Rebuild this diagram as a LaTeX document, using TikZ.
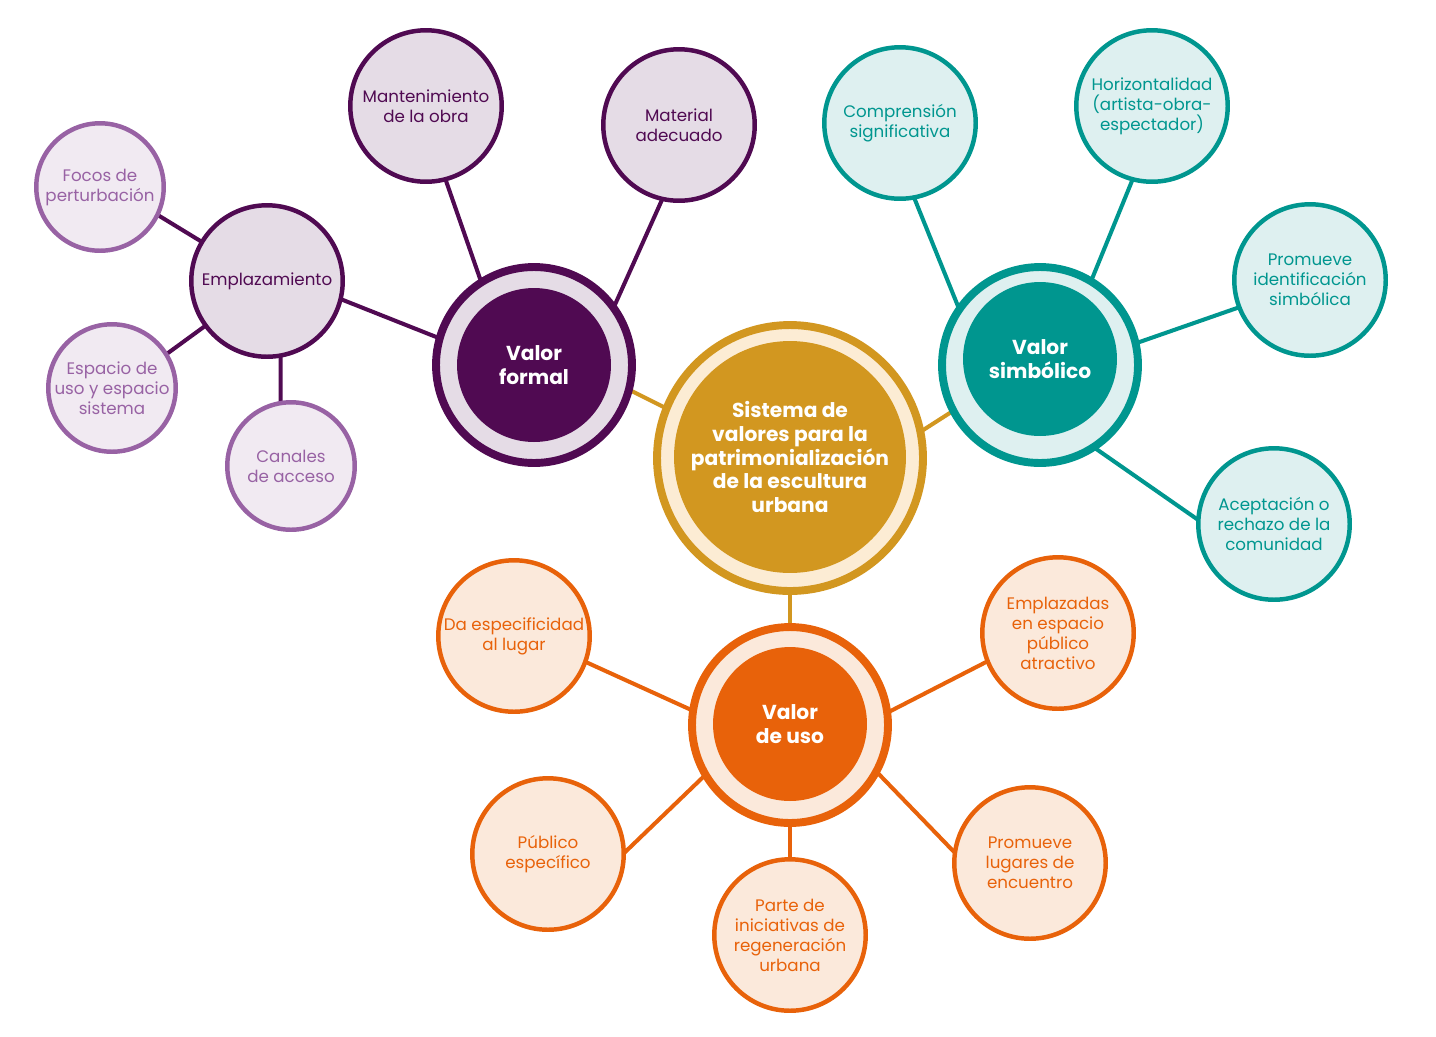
\documentclass[tikz,border=0pt]{standalone}
\usepackage{fontspec}
\setmainfont{Poppins}
\usetikzlibrary{backgrounds}
\definecolor{gold}{RGB}{210,151,32}
\definecolor{cream}{RGB}{252,236,212}
\definecolor{dpur}{RGB}{80,10,82}
\definecolor{dpurfill}{RGB}{229,220,230}
\definecolor{lpur}{RGB}{152,98,164}
\definecolor{lpurfill}{RGB}{241,234,242}
\definecolor{teal}{RGB}{0,150,143}
\definecolor{tealfill}{RGB}{222,240,240}
\definecolor{orng}{RGB}{232,98,10}
\definecolor{orngfill}{RGB}{251,233,219}
\begin{document}
\begin{tikzpicture}[x=0.02cm,y=-0.02cm,
  leaf/.style={circle, draw=#1, line width=2.55pt, minimum size=3.03cm, inner sep=0pt, align=center, text=#1,
    font=\fontsize{9.5}{11.4}\selectfont},
  smallleaf/.style={leaf=#1, minimum size=2.55cm},
  valring/.style={circle, draw=#1, line width=4.5pt, minimum size=3.92cm, inner sep=0pt},
  valdisc/.style={circle, fill=#1, minimum size=3.08cm, inner sep=0pt, align=center, text=white,
    font=\fontsize{11.5}{13.6}\selectfont\bfseries},
  link/.style={draw=#1, line width=2.3pt, shorten <=-3pt, shorten >=-3pt}]
\useasboundingbox (0,0) rectangle (1436,1036);

% centre
\node[circle, draw=gold, fill=cream, line width=4.5pt, minimum size=5.32cm, inner sep=0pt] (C) at (790,458) {};
\node[circle, fill=gold, minimum size=4.64cm, inner sep=0pt, align=center, text=white,
  font=\fontsize{11.5}{13.6}\selectfont\bfseries] (Cin) at (790,457)
  {Sistema de\\valores para la\\patrimonializaci\'on\\de la escultura\\urbana};

% values
\node[valring=dpur, fill=dpurfill] (F) at (534,365) {};
\node[valdisc=dpur] (Fin) at (534,365) {Valor\\formal};
\node[valring=teal, fill=tealfill] (S) at (1040,365) {};
\node[valdisc=teal] (Sin) at (1040,359) {Valor\\simb\'olico};
\node[valring=orng, fill=orngfill] (U) at (790,725) {};
\node[valdisc=orng] (Uin) at (790,724) {Valor\\de uso};

% formal leaves
\node[leaf=dpur, fill=dpurfill] (M) at (426,106) {Mantenimiento\\de la obra};
\node[leaf=dpur, fill=dpurfill] (T) at (679,125) {Material\\adecuado};
\node[leaf=dpur, fill=dpurfill] (E) at (267,281) {Emplazamiento};
\node[smallleaf=lpur, fill=lpurfill] (Fo) at (100,187) {Focos de\\perturbaci\'on};
\node[smallleaf=lpur, fill=lpurfill] (Es) at (112,388) {Espacio de\\uso y espacio\\sistema};
\node[smallleaf=lpur, fill=lpurfill] (Ca) at (291,466) {Canales\\de acceso};

% symbolic leaves
\node[leaf=teal, fill=tealfill] (Co) at (900,123) {Comprensi\'on\\significativa};
\node[leaf=teal, fill=tealfill] (H) at (1152,106) {Horizontalidad\\(artista-obra-\\espectador)};
\node[leaf=teal, fill=tealfill] (P) at (1310,280) {Promueve\\identificaci\'on\\simb\'olica};
\node[leaf=teal, fill=tealfill] (A) at (1274,524) {Aceptaci\'on o\\rechazo de la\\comunidad};

% use leaves
\node[leaf=orng, fill=orngfill] (Da) at (514,636) {Da especificidad\\al lugar};
\node[leaf=orng, fill=orngfill] (Em) at (1058,633) {Emplazadas\\en espacio\\p\'ublico\\atractivo};
\node[leaf=orng, fill=orngfill] (Pu) at (548,854) {P\'ublico\\espec\'ifico};
\node[leaf=orng, fill=orngfill] (Pa) at (790,935) {Parte de\\iniciativas de\\regeneraci\'on\\urbana};
\node[leaf=orng, fill=orngfill] (Pl) at (1030,863) {Promueve\\lugares de\\encuentro};

\begin{pgfonlayer}{background}
  \draw[link=gold] (C.158.6) -- (F.-15.4);
  \draw[link=gold] (C.12.7) -- (S.-152.5);
  \draw[link=gold] (C.-90) -- (U.90);
  \draw[link=dpur] (F.122.5) -- (M.-75);
  \draw[link=dpur] (F.37) -- (T.-103.5);
  \draw[link=dpur] (F.164) -- (E.-14);
  \draw[link=dpur] (E.149) -- (Fo.-26.6);
  \draw[link=dpur] (E.-144) -- (Es.32);
  \draw[link=dpur] (E.-80) -- (Ca.99);
  \draw[link=teal] (S.144.8) -- (Co.-79);
  \draw[link=teal] (S.59.7) -- (H.-105);
  \draw[link=teal] (S.13) -- (P.-159);
  \draw[link=teal] (S.-56.8) -- (A.176);
  \draw[link=orng] (U.171.5) -- (Da.-20);
  \draw[link=orng] (U.8.5) -- (Em.-158);
  \draw[link=orng] (U.-149.7) -- (Pu.2.8);
  \draw[link=orng] (U.-90) -- (Pa.90);
  \draw[link=orng] (U.-29.7) -- (Pl.171);
\end{pgfonlayer}
\end{tikzpicture}
\end{document}
